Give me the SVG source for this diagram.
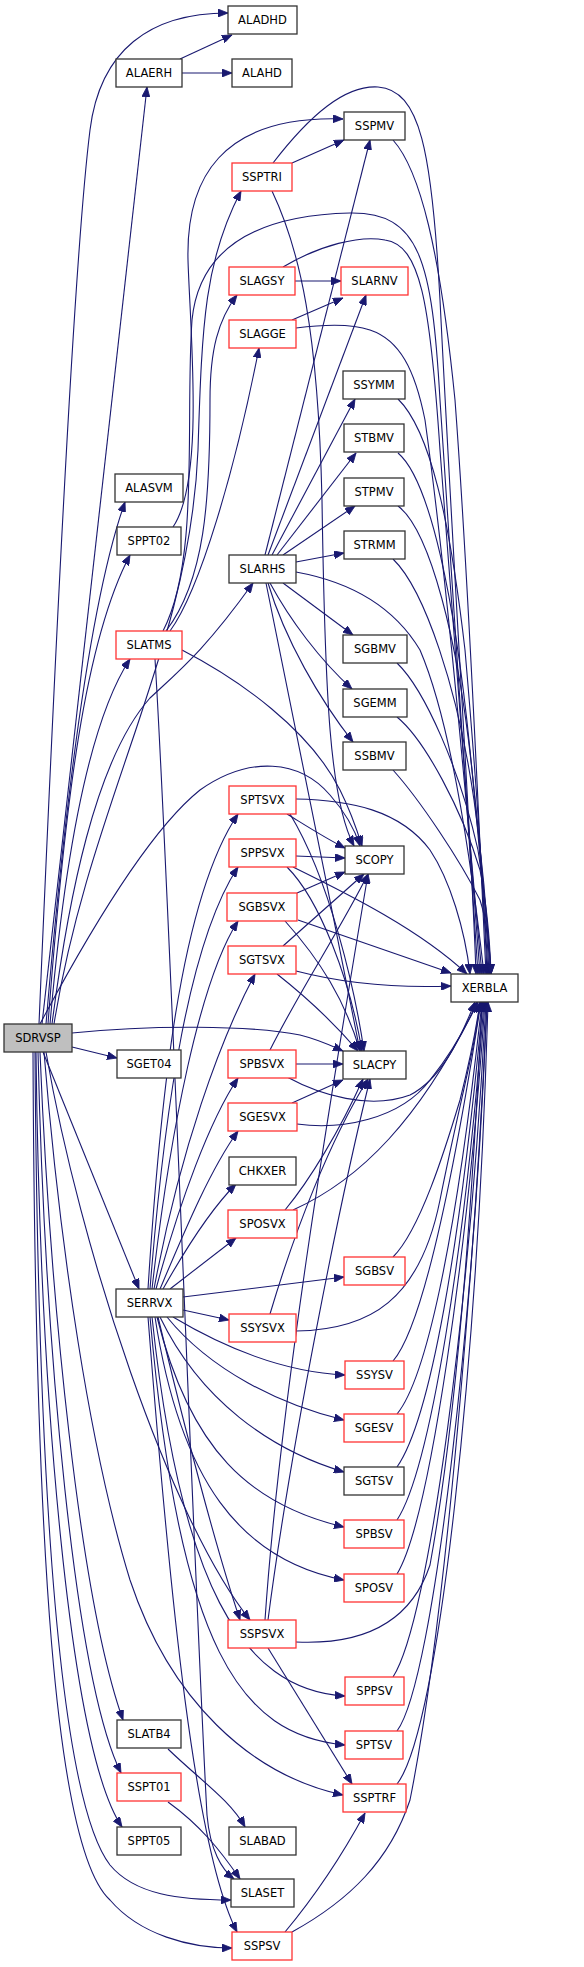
<svg xmlns="http://www.w3.org/2000/svg" width="584" height="1967" viewBox="0 0 584 1967">
<style>
.b rect{fill:#fff;stroke:#333;stroke-width:1.3}
.r rect{fill:#fff;stroke:#f33;stroke-width:1.3}
.g rect{fill:#bfbfbf;stroke:#333;stroke-width:1.3}
text{font-family:"DejaVu Sans",sans-serif;font-size:11.5px;text-anchor:middle;fill:#000}
#edges path{fill:none;stroke:#191970;stroke-width:1.1;marker-end:url(#a)}
</style>
<defs>
<marker id="a" markerUnits="userSpaceOnUse" markerWidth="11" markerHeight="8" refX="10" refY="4" orient="auto" viewBox="0 0 11 8">
<path d="M0,0 L10,4 L0,8 z" fill="#191970" stroke="#191970" stroke-width="0.8"/>
</marker>
</defs>
<g id="edges">
<path d="M39,1024 C55,650 75,250 90,130 C100,50 150,13 228,13"/>
<path d="M180,59 L232,35"/>
<path d="M182,73 L232,73"/>
<path d="M42,1024 L147,87"/>
<path d="M46,1024 C65,800 90,600 125,502"/>
<path d="M48,1024 C65,800 85,640 130,555"/>
<path d="M50,1024 C65,850 90,720 130,659"/>
<path d="M52,1024 C68,900 95,760 150,698 C180,670 205,650 253,583"/>
<path d="M54,1024 C90,800 190,650 198,450 C202,320 205,260 241,191"/>
<path d="M173,527 C205,480 190,330 188,260 C186,180 220,115 343,119"/>
<path d="M292,163 L344,140"/>
<path d="M273,163 C310,115 345,85 378,87 C420,90 432,150 440,300 C455,600 472,850 476,974"/>
<path d="M272,191 C300,250 318,330 322,500 C325,700 330,800 354,846"/>
<path d="M40,1024 C90,930 150,830 200,790 C250,755 300,760 330,795 C345,812 355,830 360,846"/>
<path d="M166,631 C205,580 210,500 210,400 C210,350 218,320 237,295"/>
<path d="M170,631 C200,590 235,470 259,348"/>
<path d="M163,631 C200,560 185,420 192,320 C200,240 270,215 350,213 C420,212 432,260 440,400 C455,650 470,850 478,974"/>
<path d="M295,281 L341,281"/>
<path d="M283,267 C320,245 360,235 385,240 C420,245 430,300 440,450 C455,650 470,850 480,974"/>
<path d="M292,320 L343,298"/>
<path d="M296,328 C320,325 350,323 370,330 C400,340 415,370 425,420 C450,600 470,850 482,974"/>
<path d="M265,555 L370,140"/>
<path d="M268,555 L366,295"/>
<path d="M272,555 L355,399"/>
<path d="M277,555 L356,453"/>
<path d="M283,555 L355,506"/>
<path d="M296,562 L344,553"/>
<path d="M283,583 L353,635"/>
<path d="M270,583 C290,620 320,660 352,689"/>
<path d="M268,583 C285,640 320,700 353,742"/>
<path d="M266,583 C290,700 330,900 360,1051"/>
<path d="M296,572 C340,580 390,600 420,650 C450,720 470,850 484,974"/>
<path d="M393,140 C420,170 440,250 455,400 C470,600 480,850 486,974"/>
<path d="M398,399 C430,430 450,520 465,650 C478,800 484,900 487,974"/>
<path d="M398,453 C430,480 455,600 470,750 C480,850 486,930 488,974"/>
<path d="M398,506 C430,530 458,640 472,770 C482,860 487,930 489,974"/>
<path d="M393,559 C425,590 458,690 474,800 C484,870 488,930 490,974"/>
<path d="M397,663 C425,690 460,770 478,850 C486,900 489,940 491,974"/>
<path d="M397,717 C425,740 462,810 480,870 C488,910 490,945 491,974"/>
<path d="M393,770 C420,800 460,860 480,900 C488,925 490,950 491,974"/>
<path d="M182,650 C240,680 310,730 340,790 C350,810 357,830 362,846"/>
<path d="M155,659 C170,900 195,1600 207,1815 C210,1850 222,1870 234,1879"/>
<path d="M72,1033 C150,1025 250,1025 300,1035 C320,1040 330,1045 343,1051"/>
<path d="M72,1047 L117,1058"/>
<path d="M43,1052 L139,1289"/>
<path d="M46,1052 C80,1250 170,1520 250,1620"/>
<path d="M44,1052 C60,1250 90,1450 130,1580 C170,1700 250,1775 343,1795"/>
<path d="M40,1052 C50,1300 80,1600 123,1720"/>
<path d="M38,1052 C45,1350 75,1680 121,1773"/>
<path d="M36,1052 C40,1400 70,1750 122,1827"/>
<path d="M35,1052 C38,1500 60,1800 110,1865 C135,1895 180,1900 231,1900"/>
<path d="M33,1052 C35,1550 55,1850 110,1900 C140,1935 190,1948 232,1948"/>
<path d="M148,1289 C160,1100 180,900 238,814"/>
<path d="M150,1289 C165,1100 190,940 238,867"/>
<path d="M152,1289 C170,1130 200,980 238,921"/>
<path d="M154,1289 C180,1150 220,1040 255,974"/>
<path d="M156,1289 C180,1200 210,1120 238,1078"/>
<path d="M160,1289 C185,1230 210,1170 238,1131"/>
<path d="M163,1289 C185,1250 210,1210 236,1184"/>
<path d="M170,1289 L236,1238"/>
<path d="M183,1297 L344,1277"/>
<path d="M183,1310 L229,1320"/>
<path d="M173,1317 C220,1345 280,1372 345,1375"/>
<path d="M167,1317 C210,1370 280,1405 344,1420"/>
<path d="M160,1317 C200,1400 270,1450 344,1472"/>
<path d="M157,1317 C190,1450 250,1505 344,1527"/>
<path d="M155,1317 C180,1480 240,1560 344,1580"/>
<path d="M152,1317 C180,1580 240,1690 345,1696"/>
<path d="M150,1317 C180,1650 240,1735 345,1745"/>
<path d="M158,1317 C190,1450 220,1560 240,1620"/>
<path d="M148,1317 C170,1600 195,1850 237,1932"/>
<path d="M287,814 C305,825 325,838 345,848"/>
<path d="M290,814 C330,880 355,990 364,1051"/>
<path d="M296,799 C350,800 400,810 430,850 C450,880 465,930 470,974"/>
<path d="M296,856 L345,858"/>
<path d="M287,867 C320,900 350,980 362,1051"/>
<path d="M293,867 C350,895 420,930 467,974"/>
<path d="M297,893 L345,872"/>
<path d="M285,921 C320,960 345,1000 360,1051"/>
<path d="M298,920 L451,973"/>
<path d="M283,946 L364,874"/>
<path d="M277,974 C310,1000 340,1030 358,1051"/>
<path d="M296,971 C350,985 400,988 451,986"/>
<path d="M296,1064 L343,1064"/>
<path d="M270,1050 C300,990 340,930 368,874"/>
<path d="M287,1077 C320,1095 370,1110 410,1095 C440,1080 460,1040 475,1002"/>
<path d="M292,1103 L343,1080"/>
<path d="M297,1124 C340,1130 400,1120 430,1080 C450,1055 465,1030 477,1002"/>
<path d="M285,1210 C310,1180 340,1130 363,1079"/>
<path d="M293,1210 C360,1180 420,1120 478,1002"/>
<path d="M270,1314 C295,1230 330,1140 368,1079"/>
<path d="M296,1331 C370,1330 420,1300 440,1200 C460,1100 475,1050 480,1002"/>
<path d="M265,1620 C280,1400 330,1100 368,874"/>
<path d="M268,1620 C290,1450 340,1200 370,1079"/>
<path d="M296,1642 C360,1645 410,1625 430,1565 C460,1400 475,1150 482,1002"/>
<path d="M268,1648 L352,1784"/>
<path d="M285,1932 C320,1890 345,1850 365,1813"/>
<path d="M292,1932 C350,1900 390,1860 410,1800 C450,1600 478,1200 487,1002"/>
<path d="M393,1257 C420,1230 445,1150 460,1100 C470,1060 476,1030 480,1002"/>
<path d="M393,1361 C420,1330 450,1200 481,1002"/>
<path d="M397,1414 C425,1380 455,1250 482,1002"/>
<path d="M397,1467 C430,1420 460,1250 483,1002"/>
<path d="M397,1520 C430,1470 465,1250 484,1002"/>
<path d="M397,1574 C430,1520 468,1250 485,1002"/>
<path d="M393,1677 C430,1620 470,1300 486,1002"/>
<path d="M397,1731 C435,1680 475,1300 487,1002"/>
<path d="M397,1784 C440,1730 478,1350 488,1002"/>
<path d="M168,1749 C200,1780 230,1800 245,1827"/>
<path d="M168,1802 C200,1825 220,1850 240,1879"/>
</g>
<g id="ALADHD" class="b"><rect x="228" y="6" width="69" height="28"/><text x="262.5" y="24">ALADHD</text></g>
<g id="ALAERH" class="b"><rect x="116" y="59" width="66" height="28"/><text x="149" y="77">ALAERH</text></g>
<g id="ALAHD" class="b"><rect x="232" y="59" width="60" height="28"/><text x="262" y="77">ALAHD</text></g>
<g id="SSPMV" class="b"><rect x="344" y="112" width="61" height="28"/><text x="374.5" y="130">SSPMV</text></g>
<g id="SSPTRI" class="r"><rect x="232" y="163" width="60" height="28"/><text x="262" y="181">SSPTRI</text></g>
<g id="SLAGSY" class="r"><rect x="229" y="267" width="66" height="28"/><text x="262" y="285">SLAGSY</text></g>
<g id="SLARNV" class="r"><rect x="341" y="267" width="67" height="28"/><text x="374.5" y="285">SLARNV</text></g>
<g id="SLAGGE" class="r"><rect x="229" y="320" width="67" height="28"/><text x="262.5" y="338">SLAGGE</text></g>
<g id="SSYMM" class="b"><rect x="343" y="371" width="62" height="28"/><text x="374" y="389">SSYMM</text></g>
<g id="STBMV" class="b"><rect x="344" y="424" width="60" height="28"/><text x="374" y="442">STBMV</text></g>
<g id="STPMV" class="b"><rect x="344" y="478" width="60" height="28"/><text x="374" y="496">STPMV</text></g>
<g id="ALASVM" class="b"><rect x="115" y="474" width="68" height="28"/><text x="149" y="492">ALASVM</text></g>
<g id="SPPT02" class="b"><rect x="117" y="527" width="64" height="28"/><text x="149" y="545">SPPT02</text></g>
<g id="STRMM" class="b"><rect x="344" y="531" width="61" height="28"/><text x="374.5" y="549">STRMM</text></g>
<g id="SLARHS" class="b"><rect x="229" y="555" width="67" height="28"/><text x="262.5" y="573">SLARHS</text></g>
<g id="SLATMS" class="r"><rect x="116" y="631" width="66" height="28"/><text x="149" y="649">SLATMS</text></g>
<g id="SGBMV" class="b"><rect x="343" y="635" width="64" height="28"/><text x="375" y="653">SGBMV</text></g>
<g id="SGEMM" class="b"><rect x="343" y="689" width="64" height="28"/><text x="375" y="707">SGEMM</text></g>
<g id="SSBMV" class="b"><rect x="343" y="742" width="63" height="28"/><text x="374.5" y="760">SSBMV</text></g>
<g id="SPTSVX" class="r"><rect x="229" y="786" width="67" height="28"/><text x="262.5" y="804">SPTSVX</text></g>
<g id="SPPSVX" class="r"><rect x="229" y="839" width="67" height="28"/><text x="262.5" y="857">SPPSVX</text></g>
<g id="SCOPY" class="b"><rect x="345" y="846" width="59" height="28"/><text x="374.5" y="864">SCOPY</text></g>
<g id="SGBSVX" class="r"><rect x="227" y="893" width="70" height="28"/><text x="262" y="911">SGBSVX</text></g>
<g id="SGTSVX" class="r"><rect x="228" y="946" width="68" height="28"/><text x="262" y="964">SGTSVX</text></g>
<g id="XERBLA" class="b"><rect x="451" y="974" width="67" height="28"/><text x="484.5" y="992">XERBLA</text></g>
<g id="SDRVSP" class="g"><rect x="4" y="1024" width="68" height="28"/><text x="38" y="1042">SDRVSP</text></g>
<g id="SGET04" class="b"><rect x="117" y="1050" width="64" height="28"/><text x="149" y="1068">SGET04</text></g>
<g id="SPBSVX" class="r"><rect x="228" y="1050" width="68" height="28"/><text x="262" y="1068">SPBSVX</text></g>
<g id="SLACPY" class="b"><rect x="343" y="1051" width="63" height="28"/><text x="374.5" y="1069">SLACPY</text></g>
<g id="SGESVX" class="r"><rect x="228" y="1103" width="69" height="28"/><text x="262.5" y="1121">SGESVX</text></g>
<g id="CHKXER" class="b"><rect x="229" y="1157" width="67" height="28"/><text x="262.5" y="1175">CHKXER</text></g>
<g id="SPOSVX" class="r"><rect x="228" y="1210" width="69" height="28"/><text x="262.5" y="1228">SPOSVX</text></g>
<g id="SGBSV" class="r"><rect x="344" y="1257" width="61" height="28"/><text x="374.5" y="1275">SGBSV</text></g>
<g id="SERRVX" class="b"><rect x="116" y="1289" width="67" height="28"/><text x="149.5" y="1307">SERRVX</text></g>
<g id="SSYSVX" class="r"><rect x="229" y="1314" width="67" height="28"/><text x="262.5" y="1332">SSYSVX</text></g>
<g id="SSYSV" class="r"><rect x="345" y="1361" width="59" height="28"/><text x="374.5" y="1379">SSYSV</text></g>
<g id="SGESV" class="r"><rect x="344" y="1414" width="60" height="28"/><text x="374" y="1432">SGESV</text></g>
<g id="SGTSV" class="b"><rect x="344" y="1467" width="60" height="28"/><text x="374" y="1485">SGTSV</text></g>
<g id="SPBSV" class="r"><rect x="344" y="1520" width="60" height="28"/><text x="374" y="1538">SPBSV</text></g>
<g id="SPOSV" class="r"><rect x="344" y="1574" width="60" height="28"/><text x="374" y="1592">SPOSV</text></g>
<g id="SSPSVX" class="r"><rect x="228" y="1620" width="68" height="28"/><text x="262" y="1638">SSPSVX</text></g>
<g id="SPPSV" class="r"><rect x="345" y="1677" width="59" height="28"/><text x="374.5" y="1695">SPPSV</text></g>
<g id="SLATB4" class="b"><rect x="117" y="1720" width="64" height="28"/><text x="149" y="1738">SLATB4</text></g>
<g id="SPTSV" class="r"><rect x="345" y="1731" width="58" height="28"/><text x="374" y="1749">SPTSV</text></g>
<g id="SSPT01" class="r"><rect x="117" y="1773" width="64" height="28"/><text x="149" y="1791">SSPT01</text></g>
<g id="SSPTRF" class="r"><rect x="343" y="1784" width="63" height="28"/><text x="374.5" y="1802">SSPTRF</text></g>
<g id="SPPT05" class="b"><rect x="117" y="1827" width="64" height="28"/><text x="149" y="1845">SPPT05</text></g>
<g id="SLABAD" class="b"><rect x="229" y="1827" width="67" height="28"/><text x="262.5" y="1845">SLABAD</text></g>
<g id="SLASET" class="b"><rect x="231" y="1879" width="63" height="28"/><text x="262.5" y="1897">SLASET</text></g>
<g id="SSPSV" class="r"><rect x="232" y="1932" width="60" height="28"/><text x="262" y="1950">SSPSV</text></g>
</svg>
